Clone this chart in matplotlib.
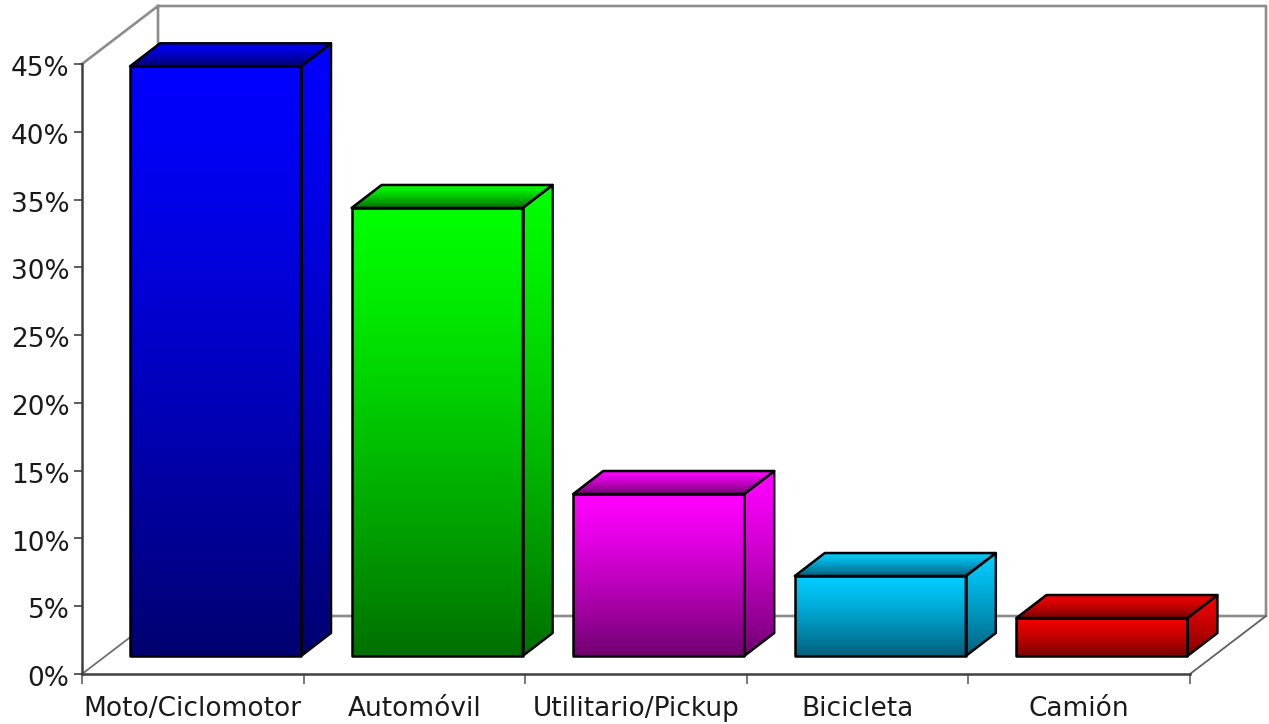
"""Pseudo-3D bar chart of vehicle shares, drawn with plain matplotlib polygons."""

import matplotlib
matplotlib.use("Agg")
import matplotlib.pyplot as plt
import numpy as np
from matplotlib.patches import Polygon
from matplotlib.transforms import ScaledTranslation

categories = ["Moto/Ciclomotor", "Automóvil", "Utilitario/Pickup", "Bicicleta", "Camión"]
values = [43.5, 33.05, 11.95, 5.9, 2.8]
y_ticks = [0, 5, 10, 15, 20, 25, 30, 35, 40, 45]
tops = [(0, 0, 255), (0, 255, 0), (255, 0, 255), (0, 204, 255), (242, 0, 0)]
bottoms = [(0, 0, 112), (0, 112, 0), (112, 0, 112), (0, 95, 125), (125, 0, 0)]

PX_X = 221.6  # pixels per category
PX_Y = 13.556  # pixels per percent
WALL_DX = 76 / PX_X
WALL_DY = 58 / PX_Y
BAR_DX = 30 / PX_X
BAR_DY = 23 / PX_Y
BAR_LEFT = 48 / PX_X
BAR_W = 171 / PX_X
BAR_BASE = 18 / PX_Y


def rgb(c):
    return np.array(c, dtype=float) / 255


def face(ax, pts, c_top, c_bot, z):
    """Fill a polygon with a vertical gradient and a black outline."""
    pts = np.array(pts)
    t = np.linspace(0, 1, 256)[:, None, None] ** 1.25
    grad = c_top + (c_bot - c_top) * t
    im = ax.imshow(
        grad,
        extent=(pts[:, 0].min(), pts[:, 0].max(), pts[:, 1].min(), pts[:, 1].max()),
        origin="upper",
        aspect="auto",
        zorder=z,
    )
    outline = Polygon(pts, closed=True, fc="none", ec="black", lw=1.8, joinstyle="round", zorder=z + 0.1)
    ax.add_patch(outline)
    im.set_clip_path(outline)


fig = plt.figure(figsize=(12.69, 7.24), dpi=100)
ax = fig.add_axes([0, 0, 1, 1])
ax.patch.set_alpha(0)

# walls and floor
gray = "#8c8c8c"
wall_x = [0, WALL_DX, 5 + WALL_DX, 5 + WALL_DX, WALL_DX, WALL_DX]
wall_y = [45, 45 + WALL_DY, 45 + WALL_DY, WALL_DY, WALL_DY, 45 + WALL_DY]
ax.plot(wall_x, wall_y, color=gray, lw=1.9, zorder=1)
ax.plot([0, WALL_DX], [0, WALL_DY], color="#707070", lw=1.3, zorder=1)
ax.plot([5, 5 + WALL_DX], [0, WALL_DY], color="#606060", lw=1.3, zorder=1)

for i, (val, top, bot) in enumerate(zip(values, tops, bottoms)):
    x0 = i + BAR_LEFT
    x1 = x0 + BAR_W
    y0 = BAR_BASE
    y1 = BAR_BASE + val
    c_top = rgb(top)
    c_bot = rgb(bot)
    face(ax, [(x0, y0), (x1, y0), (x1, y1), (x0, y1)], c_top, c_bot, 3)
    face(
        ax,
        [(x1, y0), (x1 + BAR_DX, y0 + BAR_DY), (x1 + BAR_DX, y1 + BAR_DY), (x1, y1)],
        c_top,
        c_bot,
        3,
    )
    face(
        ax,
        [(x0, y1), (x1, y1), (x1 + BAR_DX, y1 + BAR_DY), (x0 + BAR_DX, y1 + BAR_DY)],
        c_top,
        c_bot,
        3,
    )

ax.set_xlim(-82 / PX_X, (1269 - 82) / PX_X)
ax.set_ylim((674 - 724) / PX_Y, 674 / PX_Y)

for side in ["top", "right"]:
    ax.spines[side].set_visible(False)
ax.spines["left"].set_position(("data", 0))
ax.spines["bottom"].set_position(("data", 0))
ax.spines["left"].set_bounds(0, 45)
ax.spines["bottom"].set_bounds(0, 5)
for side in ["left", "bottom"]:
    ax.spines[side].set_color("#404040")
    ax.spines[side].set_linewidth(1.8)

ax.set_yticks(y_ticks, [f"{v}%" for v in y_ticks])
ax.set_xticks(range(6), [""] * 6)
ax.set_xticks(np.arange(5) + 0.5, categories, minor=True)
ax.tick_params(axis="y", length=6, width=1.2, color="#404040", pad=3, labelsize=19, labelcolor="#1a1a1a")
ax.tick_params(axis="x", which="major", length=7, width=1.2, color="#606060")
ax.tick_params(axis="x", which="minor", length=0, pad=16, labelsize=19, labelcolor="#1a1a1a")

# the percent labels sit a touch below their ticks
nudge = ScaledTranslation(0, -1.5 / 72, fig.dpi_scale_trans)
for label in ax.get_yticklabels():
    label.set_transform(label.get_transform() + nudge)

fig.savefig("out.png", dpi=100)
